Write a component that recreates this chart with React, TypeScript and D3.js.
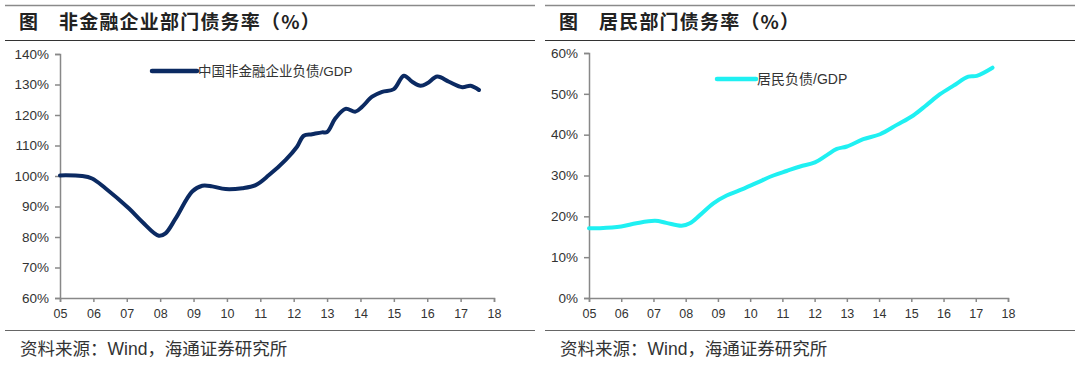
import React, { useEffect, useRef } from "react";
import * as d3 from "d3";

// 非金融企业部门：年份（小数）与负债/GDP（%）
const corpYears = [2005.0, 2005.66, 2005.96, 2006.36, 2007.06, 2007.46, 2007.96, 2008.16, 2008.46, 2008.96, 2009.26, 2009.56, 2009.96, 2010.46, 2010.86, 2011.26, 2011.76, 2012.1, 2012.3, 2012.55, 2012.85, 2013.0, 2013.25, 2013.55, 2013.85, 2014.05, 2014.35, 2014.65, 2015.0, 2015.3, 2015.55, 2015.8, 2016.0, 2016.3, 2016.65, 2017.05, 2017.3, 2017.55];
const corpValues = [100.2, 100, 99.2, 96, 89.4, 85, 80.4, 81.2, 86, 94.9, 96.8, 96.6, 95.7, 96, 97, 100.3, 105.3, 109.6, 113.2, 113.7, 114.3, 114.4, 118.9, 122, 121.1, 122.7, 126, 127.6, 128.5, 132.9, 130.9, 129.6, 130.4, 132.6, 130.9, 129.1, 129.6, 128.2];

// 居民部门
const hhYears = [2005.0, 2005.34, 2006.0, 2006.47, 2007.05, 2007.4, 2007.87, 2008.13, 2008.44, 2008.86, 2009.27, 2009.68, 2010.2, 2010.72, 2011.13, 2011.55, 2012.01, 2012.38, 2012.69, 2013.0, 2013.51, 2014.03, 2014.55, 2015.06, 2015.48, 2015.89, 2016.31, 2016.77, 2017.03, 2017.52];
const hhValues = [17.1, 17.1, 17.5, 18.3, 18.9, 18.4, 17.7, 18.3, 20.3, 23.2, 25.1, 26.4, 28.2, 30, 31.1, 32.2, 33.2, 35, 36.5, 37.1, 38.9, 40.1, 42.4, 44.7, 47.3, 49.9, 52, 54.2, 54.4, 56.4];

const xTickYears = [2005, 2006, 2007, 2008, 2009, 2010, 2011, 2012, 2013, 2014, 2015, 2016, 2017, 2018];
const corpTicks = [60, 70, 80, 90, 100, 110, 120, 130, 140];
const hhTicks = [0, 10, 20, 30, 40, 50, 60];

const CJK = "'Noto Sans CJK SC', 'Noto Sans', sans-serif";
const LATIN = "'Liberation Sans', Arial, sans-serif";

interface PanelProps {
    title: string;
    years: number[];
    values: number[];
    ticks: number[];
    color: string;
    legend: string;
    plot: { left: number; right: number; top: number; bottom: number };
    legendPos: { x1: number; x2: number; y: number; size: number };
}

const Panel: React.FC<PanelProps> = ({ title, years, values, ticks, color, legend, plot, legendPos }) => {
    const gRef = useRef<SVGGElement>(null);

    useEffect(() => {
        if (!gRef.current) return;
        const g = d3.select(gRef.current);
        g.selectAll("*").remove();

        const x = d3.scaleLinear().domain([2005, 2018]).range([plot.left, plot.right]);
        const y = d3.scaleLinear().domain([ticks[0], ticks[ticks.length - 1]]).range([plot.bottom, plot.top]);

        // 标题区
        g.append("line").attr("x1", 5).attr("x2", 535).attr("y1", 5.5).attr("y2", 5.5)
            .attr("stroke", "#8a8a8a").attr("stroke-width", 1.5);
        g.append("line").attr("x1", 5).attr("x2", 535).attr("y1", 40.5).attr("y2", 40.5)
            .attr("stroke", "#333").attr("stroke-width", 1.2);
        g.append("line").attr("x1", 5).attr("x2", 535).attr("y1", 330.5).attr("y2", 330.5)
            .attr("stroke", "#666").attr("stroke-width", 1.2);

        g.append("text").attr("x", 19).attr("y", 29)
            .attr("font-family", CJK).attr("font-size", 19).attr("font-weight", 700)
            .attr("fill", "#222").text("图");
        g.append("text").attr("x", 59).attr("y", 29)
            .attr("font-family", CJK).attr("font-size", 19).attr("font-weight", 700)
            .attr("letter-spacing", 1.2).attr("fill", "#222").text(title);

        // 资料来源
        const src = g.append("text").attr("x", 20).attr("y", 355)
            .attr("font-family", CJK).attr("font-size", 17.5).attr("fill", "#333");
        src.append("tspan").text("资料来源：");
        src.append("tspan").attr("font-family", LATIN).text("Wind");
        src.append("tspan").text("，海通证券研究所");

        // Y 轴
        const yAxis = g.append("g")
            .attr("transform", `translate(${plot.left},0)`)
            .call(d3.axisLeft(y).tickValues(ticks).tickSize(5).tickPadding(6).tickFormat((d) => `${d}%`));
        yAxis.selectAll("path, line").attr("stroke", "#888").attr("stroke-width", 1.5);
        yAxis.selectAll("text").attr("fill", "#333").attr("font-size", 13.5).attr("font-family", LATIN);

        // X 轴
        const xAxis = g.append("g")
            .attr("transform", `translate(0,${plot.bottom})`)
            .call(d3.axisBottom(x).tickValues(xTickYears).tickSize(4).tickPadding(7)
                .tickFormat((d) => String(+d % 100).padStart(2, "0")));
        xAxis.selectAll("path, line").attr("stroke", "#888").attr("stroke-width", 1.5);
        xAxis.selectAll("text").attr("fill", "#333").attr("font-size", 12.5).attr("font-family", LATIN);
        yAxis.raise();

        // 折线
        const line = d3.line<number>()
            .x((_d, i) => x(years[i]))
            .y((d) => y(d))
            .curve(d3.curveCatmullRom.alpha(0.5));
        g.append("path")
            .datum(values)
            .attr("fill", "none")
            .attr("stroke", color)
            .attr("stroke-width", 4)
            .attr("stroke-linejoin", "round")
            .attr("stroke-linecap", "round")
            .attr("d", line);

        // 图例
        g.append("line")
            .attr("x1", legendPos.x1).attr("x2", legendPos.x2)
            .attr("y1", legendPos.y).attr("y2", legendPos.y)
            .attr("stroke", color).attr("stroke-width", 4.5).attr("stroke-linecap", "round");
        const lg = g.append("text")
            .attr("x", legendPos.x2 + 1).attr("y", legendPos.y + 5)
            .attr("font-family", CJK).attr("font-size", legendPos.size).attr("fill", "#333");
        const parts = legend.split("/");
        lg.append("tspan").text(parts[0]);
        lg.append("tspan").attr("font-family", LATIN).text("/" + parts[1]);
    }, [title, years, values, ticks, color, legend, plot, legendPos]);

    return <g ref={gRef} />;
};

export default function App() {
    return (
        <div style={{ position: "fixed", left: 0, top: 0, width: 1080, height: 367, background: "#fff" }}>
            <svg width={1080} height={367} style={{ display: "block" }}>
                <Panel
                    title="非金融企业部门债务率（%）"
                    years={corpYears}
                    values={corpValues}
                    ticks={corpTicks}
                    color="#0b2a62"
                    legend="中国非金融企业负债/GDP"
                    plot={{ left: 60, right: 494, top: 54, bottom: 298 }}
                    legendPos={{ x1: 152, x2: 197, y: 71, size: 13.5 }}
                />
                <g transform="translate(540,0)">
                    <Panel
                        title="居民部门债务率（%）"
                        years={hhYears}
                        values={hhValues}
                        ticks={hhTicks}
                        color="#1ff0f2"
                        legend="居民负债/GDP"
                        plot={{ left: 49, right: 468, top: 53, bottom: 298 }}
                        legendPos={{ x1: 177, x2: 216, y: 79, size: 14 }}
                    />
                </g>
            </svg>
        </div>
    );
}
